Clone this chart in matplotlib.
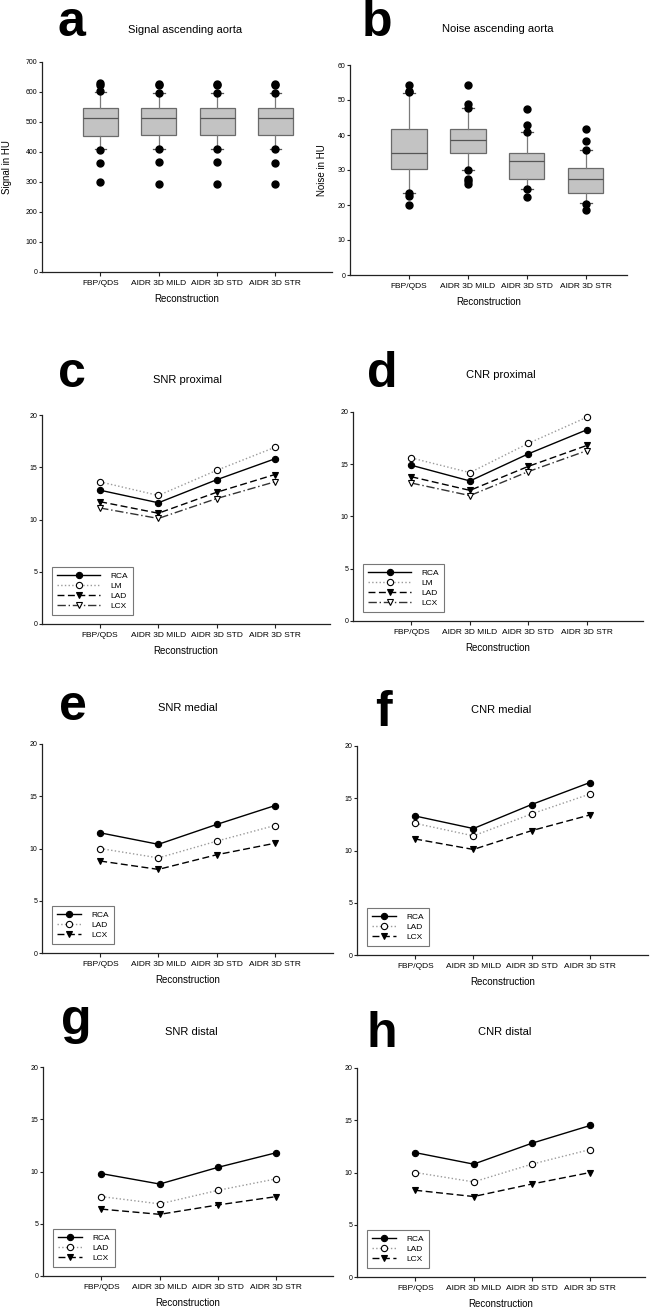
import numpy as np
import matplotlib
matplotlib.use('Agg')
import matplotlib.pyplot as plt

plt.rcParams['font.family'] = ['Liberation Sans', 'DejaVu Sans']

W, H = 653, 1311

recon = ['FBP/QDS', 'AIDR 3D MILD', 'AIDR 3D STD', 'AIDR 3D STR']

# panel a - signal ascending aorta (HU)
signal_q1 = [452, 456, 456, 456]
signal_med = [513, 513, 514, 513]
signal_q3 = [548, 547, 547, 547]
signal_wlo = [410, 411, 411, 411]
signal_whi = [600, 597, 597, 597]
signal_fliers = [[630, 624, 602, 408, 365, 300],
                 [628, 624, 598, 410, 367, 295],
                 [628, 624, 598, 410, 366, 295],
                 [627, 625, 597, 410, 365, 295]]

# panel b - noise ascending aorta (HU)
noise_q1 = [30.2, 34.9, 27.5, 23.3]
noise_med = [35.0, 38.6, 32.6, 27.5]
noise_q3 = [41.8, 41.6, 34.8, 30.6]
noise_wlo = [23.5, 30.0, 24.5, 20.5]
noise_whi = [52.1, 47.6, 40.8, 35.6]
noise_fliers = [[54.3, 52.7, 52.2, 23.3, 22.6, 20.0],
                [54.2, 48.9, 47.8, 30.0, 27.4, 26.9, 25.9],
                [47.5, 43.0, 40.8, 24.5, 22.4],
                [41.8, 38.2, 35.6, 20.4, 18.5]]

# panels c-h - mean SNR / CNR per vessel
snr_prox = {'RCA': [12.8, 11.6, 13.8, 15.8], 'LM': [13.6, 12.3, 14.7, 16.9],
            'LAD': [11.7, 10.6, 12.6, 14.3], 'LCX': [11.1, 10.1, 12.0, 13.6]}
cnr_prox = {'RCA': [14.9, 13.4, 16.0, 18.3], 'LM': [15.6, 14.2, 17.0, 19.5],
            'LAD': [13.8, 12.5, 14.8, 16.8], 'LCX': [13.2, 12.0, 14.3, 16.3]}
snr_med = {'RCA': [11.5, 10.4, 12.3, 14.1], 'LAD': [10.0, 9.1, 10.7, 12.2],
           'LCX': [8.8, 8.0, 9.4, 10.5]}
cnr_med = {'RCA': [13.3, 12.1, 14.4, 16.5], 'LAD': [12.6, 11.4, 13.5, 15.4],
           'LCX': [11.1, 10.1, 11.9, 13.4]}
snr_dist = {'RCA': [9.8, 8.8, 10.4, 11.8], 'LAD': [7.6, 6.9, 8.2, 9.3],
            'LCX': [6.4, 5.9, 6.8, 7.6]}
cnr_dist = {'RCA': [11.9, 10.8, 12.8, 14.5], 'LAD': [10.0, 9.1, 10.8, 12.2],
            'LCX': [8.3, 7.7, 8.9, 10.0]}


def px_axes(fig, left, top, right, bottom):
    return fig.add_axes([left / W, 1 - bottom / H, (right - left) / W, (bottom - top) / H])


def style_axes(ax, xmax, ymax, ystep):
    for s in ['top', 'right']:
        ax.spines[s].set_visible(False)
    for s in ['left', 'bottom']:
        ax.spines[s].set_linewidth(0.9)
        ax.spines[s].set_color('#222222')
    ax.set_xlim(0, xmax)
    ax.set_ylim(0, ymax)
    ax.set_xticks(range(1, 5))
    ax.set_xticklabels(recon)
    ax.set_yticks(np.arange(0, ymax + 1, ystep))
    ax.tick_params(direction='out', width=0.8, color='#222222')
    ax.tick_params(axis='x', labelsize=6, length=3, pad=3)
    ax.tick_params(axis='y', labelsize=5, length=2, pad=1.5)
    ax.set_xlabel('Reconstruction', fontsize=7, labelpad=5)


def header(fig, letter, lx, ly, title, tx, ty):
    fig.text(lx / W, 1 - ly / H, letter, fontsize=36, fontweight='bold',
             ha='left', va='baseline')
    fig.text(tx / W, 1 - ty / H, title, fontsize=8, ha='center', va='center')


def boxes(ax, q1, med, q3, wlo, whi, fliers):
    stats = []
    for i in range(4):
        stats.append({'q1': q1[i], 'med': med[i], 'q3': q3[i],
                      'whislo': wlo[i], 'whishi': whi[i], 'fliers': fliers[i]})
    ax.bxp(stats, positions=range(1, 5), widths=0.6, patch_artist=True,
           boxprops=dict(facecolor='#c3c3c3', edgecolor='#6a6a6a', linewidth=0.9),
           medianprops=dict(color='#555555', linewidth=0.9),
           whiskerprops=dict(color='#7a7a7a', linewidth=0.9),
           capprops=dict(color='#555555', linewidth=0.9), capwidths=0.2,
           flierprops=dict(marker='o', markerfacecolor='black', markeredgecolor='black',
                           markersize=5))


styles = {
    'RCA': dict(color='black', linestyle='-', marker='o', mfc='black'),
    'LM': dict(color='#9a9a9a', linestyle=':', marker='o', mfc='white'),
    'LAD': dict(color='black', linestyle=(0, (5, 2.5)), marker='v', mfc='black'),
    'LCX': dict(color='#333333', linestyle=(0, (6, 2, 1, 2)), marker='v', mfc='white'),
}
styles_3 = {
    'RCA': styles['RCA'],
    'LAD': dict(color='#9a9a9a', linestyle=':', marker='o', mfc='white'),
    'LCX': dict(color='black', linestyle=(0, (5, 2.5)), marker='v', mfc='black'),
}


def lines(ax, series, sty, handlelen):
    x = np.arange(1, 5)
    for name, vals in series.items():
        st = sty[name]
        ax.plot(x, vals, color=st['color'], linestyle=st['linestyle'], linewidth=1.0,
                marker=st['marker'], markersize=4.5, markerfacecolor=st['mfc'],
                markeredgecolor='black', markeredgewidth=0.8, label=name)
    bb = ax.get_position()
    axw, axh = bb.width * W, bb.height * H
    leg = ax.legend(loc='lower left', bbox_to_anchor=(10 / axw, 9 / axh), borderaxespad=0,
                    fontsize=6, handlelength=handlelen, handletextpad=1.2, labelspacing=0.25,
                    borderpad=0.6, fancybox=False, framealpha=1)
    leg.get_frame().set_edgecolor('#777777')
    leg.get_frame().set_linewidth(0.8)


fig = plt.figure(figsize=(W / 100, H / 100), dpi=100)

# a
ax = px_axes(fig, 42, 62, 332, 272)
boxes(ax, signal_q1, signal_med, signal_q3, signal_wlo, signal_whi, signal_fliers)
style_axes(ax, 4.97, 700, 100)
ax.set_ylabel('Signal in HU', fontsize=7)
ax.yaxis.set_label_coords((12 - 42) / 290, 0.5)
header(fig, 'a', 57, 36, 'Signal ascending aorta', 185, 30)

# b
ax = px_axes(fig, 350, 65, 627, 275)
boxes(ax, noise_q1, noise_med, noise_q3, noise_wlo, noise_whi, noise_fliers)
style_axes(ax, 4.7, 60, 10)
ax.set_ylabel('Noise in HU', fontsize=7)
ax.yaxis.set_label_coords((327 - 350) / 277, 0.5)
header(fig, 'b', 362, 36, 'Noise ascending aorta', 498, 29)

# c
ax = px_axes(fig, 42, 415, 330, 624)
lines(ax, snr_prox, styles, 5.2)
style_axes(ax, 4.95, 20, 5)
header(fig, 'c', 58, 387, 'SNR proximal', 187, 380)

# d
ax = px_axes(fig, 353, 412, 643, 621)
lines(ax, cnr_prox, styles, 5.2)
style_axes(ax, 4.96, 20, 5)
header(fig, 'd', 367, 387, 'CNR proximal', 501, 375)

# e
ax = px_axes(fig, 42, 744, 333, 953)
lines(ax, snr_med, styles_3, 2.9)
style_axes(ax, 5.0, 20, 5)
header(fig, 'e', 59, 720, 'SNR medial', 188, 708)

# f
ax = px_axes(fig, 357, 746, 648, 955)
lines(ax, cnr_med, styles_3, 2.9)
style_axes(ax, 5.0, 20, 5)
header(fig, 'f', 375, 726, 'CNR medial', 501, 710)

# g
ax = px_axes(fig, 43, 1067, 333, 1276)
lines(ax, snr_dist, styles_3, 2.9)
style_axes(ax, 4.97, 20, 5)
header(fig, 'g', 61, 1034, 'SNR distal', 191, 1032)

# h
ax = px_axes(fig, 357, 1068, 645, 1277)
lines(ax, cnr_dist, styles_3, 2.9)
style_axes(ax, 4.94, 20, 5)
header(fig, 'h', 366, 1047, 'CNR distal', 505, 1032)

plt.savefig('out.png', dpi=100)
